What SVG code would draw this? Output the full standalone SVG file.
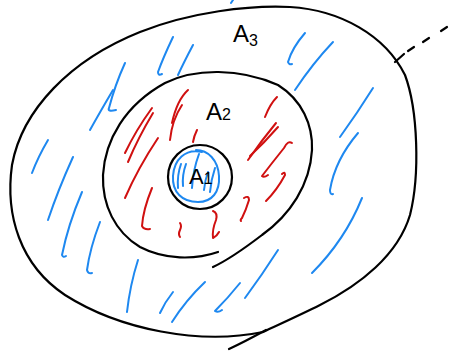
<svg xmlns="http://www.w3.org/2000/svg" width="449" height="353" viewBox="0 0 449 353">
<style>
.k{fill:none;stroke:#000;stroke-width:2.2;stroke-linecap:round;stroke-linejoin:round}
.b{fill:none;stroke:#1e88f0;stroke-width:2;stroke-linecap:round;stroke-linejoin:round}
.r{fill:none;stroke:#d01010;stroke-width:2;stroke-linecap:round;stroke-linejoin:round}
.t{font-family:"Liberation Sans",Arial,sans-serif;fill:#000}
</style>
<rect width="449" height="353" fill="#fff"/>
<g id="region-A3">
<path class="k" d="M263,332 C200,345 120,330 65,295 C20,265 5,215 12,165 C22,110 70,60 140,32 C190,12 250,5 290,7 C340,10 385,35 405,75 C418,110 420,175 410,215 C398,255 360,285 320,305 C300,315 280,324 263,332"/>
<path class="k" d="M229,349 C242,343 255,336 266,330"/>
<path class="k" d="M395,62 L404,54"/>
<path class="k" d="M408,51 L414,47 M423,42 L429,38 M441,31 L447,27"/>
<g id="hatch-A3">
<path class="b" d="M233,0 L231,3"/>
<path class="b" d="M173,37 Q163,58 158,72 Q158,76 162,74"/>
<path class="b" d="M193,45 Q184,62 178,75"/>
<path class="b" d="M125,63 Q115,85 109,108 Q107,112 116,110"/>
<path class="b" d="M113,90 Q100,112 90,130"/>
<path class="b" d="M48,140 Q38,157 32,173"/>
<path class="b" d="M73,157 Q58,190 48,220"/>
<path class="b" d="M82,192 Q68,225 62,255 Q63,258 66,256"/>
<path class="b" d="M100,222 Q90,248 87,270 Q88,274 92,273"/>
<path class="b" d="M138,260 Q130,285 127,312"/>
<path class="b" d="M173,292 Q165,302 160,313"/>
<path class="b" d="M205,282 Q186,300 172,322"/>
<path class="b" d="M240,283 Q228,298 215,311 Q218,313 222,310"/>
<path class="b" d="M278,250 Q262,275 245,298"/>
<path class="b" d="M362,198 Q345,240 312,273"/>
<path class="b" d="M358,133 Q335,160 330,190 Q330,195 333,194"/>
<path class="b" d="M373,88 Q358,112 340,137"/>
<path class="b" d="M333,42 Q313,63 295,90"/>
<path class="b" d="M305,33 Q292,48 288,62 Q289,65 292,64"/>
</g>
<text class="t" x="233" y="42" font-size="24">A<tspan font-size="16" dy="4">3</tspan></text>
</g>
<g id="region-A2">
<path class="k" d="M218,252 C195,260 165,260 140,247 C115,232 102,205 103,175 C105,140 125,105 165,83 C195,68 240,68 278,85 C302,100 313,125 312,150 C310,185 290,215 262,235 C245,248 228,260 213,267"/>
<g id="hatch-A2">
<path class="r" d="M188,90 Q177,100 172,123"/>
<path class="r" d="M182,105 Q172,120 170,140"/>
<path class="r" d="M152,108 Q136,130 125,153"/>
<path class="r" d="M153,113 Q138,138 128,162"/>
<path class="r" d="M158,138 Q138,168 125,198"/>
<path class="r" d="M152,188 Q143,210 142,226 Q144,230 150,229"/>
<path class="r" d="M197,130 Q194,136 193,142"/>
<path class="r" d="M180,223 Q182,226 180,230 Q178,234 180,237"/>
<path class="r" d="M213,211 Q218,213 216,220 Q212,230 213,238 Q217,236 219,232"/>
<path class="r" d="M244,198 Q249,195 249,200 Q246,210 242,218 Q240,220 241,221"/>
<path class="r" d="M282,174 Q285,171 285,175 Q277,190 266,201"/>
<path class="r" d="M292,143 Q288,140 284,148 Q272,163 262,176 Q264,178 268,175"/>
<path class="r" d="M276,123 Q262,140 248,160"/>
<path class="r" d="M278,127 Q264,143 250,156"/>
<path class="r" d="M277,97 Q270,104 265,117"/>
</g>
<text class="t" x="206" y="120" font-size="24">A<tspan font-size="16" dy="0">2</tspan></text>
</g>
<g id="region-A1">
<ellipse class="k" cx="200" cy="177" rx="32" ry="32"/>
<path class="b" d="M202,152 C185,148 174,160 173,176 C172,192 182,202 198,202 C212,202 220,192 219,176 C218,160 208,150 196,150"/>
<g id="hatch-A1">
<path class="b" d="M181,164 Q177,175 178,188"/>
<path class="b" d="M186,164 Q182,175 183,186"/>
<path class="b" d="M199,154 Q193,170 192,188"/>
<path class="b" d="M208,172 Q205,180 204,190"/>
<path class="b" d="M215,168 Q211,180 210,192"/>
</g>
<text class="t" x="189" y="184" font-size="22">A<tspan font-size="16">1</tspan></text>
</g>
</svg>
